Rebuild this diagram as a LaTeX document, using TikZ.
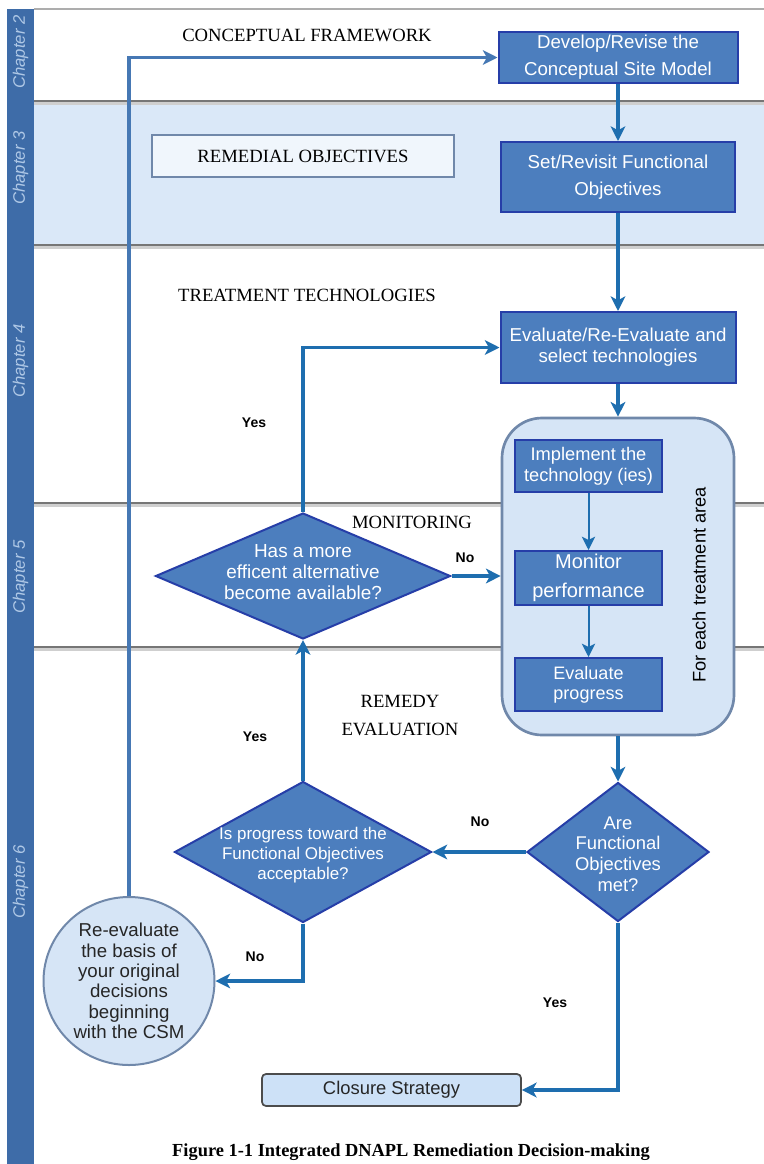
\documentclass[tikz,border=0pt]{standalone}
\usepackage{fontspec}
\setmainfont{Liberation Serif}
\setsansfont{Liberation Sans}
\usetikzlibrary{arrows.meta,shapes.geometric}
\definecolor{boxfill}{RGB}{76,126,190}
\definecolor{boxborder}{RGB}{38,62,168}
\definecolor{arrowc}{RGB}{30,110,175}
\definecolor{lightfill}{RGB}{214,229,246}
\definecolor{closefill}{RGB}{205,225,247}
\definecolor{bandfill}{RGB}{218,232,248}
\definecolor{contborder}{RGB}{112,136,170}
\definecolor{sidebar}{RGB}{62,108,168}
\definecolor{chaptext}{RGB}{175,200,230}
\definecolor{laneline}{RGB}{118,118,118}
\definecolor{fbline}{RGB}{70,120,180}
\newcommand{\pxl}[1]{#1*0.75pt}
\begin{document}
\begin{tikzpicture}[x=0.75pt,y=-0.75pt,
  bluebox/.style={draw=boxborder, line width=1.5pt, fill=boxfill, text=white,
    font=\sffamily\fontsize{14}{19}\selectfont, align=center, inner sep=0pt},
  dshape/.style={diamond, draw=boxborder, line width=1.5pt, fill=boxfill, inner sep=0pt},
  dtext/.style={text=white, align=center, inner sep=0pt},
  flow/.style={draw=arrowc, line width=2.4pt, -{Stealth[length=11pt,width=11pt,inset=3pt]}},
  thinflow/.style={draw=arrowc, line width=1.5pt, -{Stealth[length=10pt,width=10pt,inset=2.5pt]}},
  lbl/.style={font=\sffamily\bfseries\fontsize{10.5}{12}\selectfont, inner sep=0pt},
  heading/.style={font=\fontsize{14}{16}\selectfont, inner sep=0pt},
  chap/.style={rotate=90, text=chaptext, font=\sffamily\itshape\fontsize{12.5}{14}\selectfont, inner sep=0pt},
  lane/.style={draw=laneline, line width=2.2pt}
]
\useasboundingbox (0,0) rectangle (764,1164);
\fill[white] (0,0) rectangle (764,1164);
% chapter 3 band
\fill[bandfill] (34,101) rectangle (764,245);
% lane lines
\draw[draw=laneline!60, line width=1.2pt] (34,9) -- (764,9);
\foreach \yy in {101,245,503,647} {
  \draw[draw=laneline!35, line width=2pt] (34,\yy+2.5) -- (764,\yy+2.5);
  \draw[lane] (34,\yy) -- (764,\yy);
}
% sidebar
\fill[sidebar] (7,9) rectangle (34,1164);
\node[chap] (c2) at (20.5,52) {Chapter 2};
\node[chap] (c3) at (20.5,168) {Chapter 3};
\node[chap] (c4) at (20.5,361) {Chapter 4};
\node[chap] (c5) at (20.5,577) {Chapter 5};
\node[chap] (c6) at (20.5,882) {Chapter 6};

% headings
\node[heading] (hcf) at (307,35) {CONCEPTUAL FRAMEWORK};
\node[draw=contborder, line width=1pt, fill=white!60!bandfill, minimum width=\pxl{302}, minimum height=\pxl{42}, heading] (hro) at (303,156) {REMEDIAL OBJECTIVES};
\node[heading] (htt) at (307,295) {TREATMENT TECHNOLOGIES};
\node[heading] (hmon) at (412,522) {MONITORING};
\node[heading, align=center, font=\fontsize{14}{21}\selectfont] (hre) at (400,716) {REMEDY\\EVALUATION};

% main column boxes
\node[bluebox, minimum width=\pxl{239}, minimum height=\pxl{51}, font=\sffamily\fontsize{14}{20}\selectfont] (dev) at (618,57.5) {Develop/Revise the\\Conceptual Site Model};
\node[bluebox, minimum width=\pxl{234}, minimum height=\pxl{70}, font=\sffamily\fontsize{14}{20}\selectfont] (set) at (618,177) {Set/Revisit Functional\\Objectives};
\node[bluebox, minimum width=\pxl{235}, minimum height=\pxl{71}, font=\sffamily\fontsize{14}{15.5}\selectfont] (eval) at (618,347.5) {Evaluate/Re-Evaluate and\\select technologies};

% container
\node[draw=contborder, line width=2pt, fill=lightfill, rounded corners=30pt, minimum width=\pxl{232}, minimum height=\pxl{317}, inner sep=0pt] (cont) at (618,576.5) {};
\node[rotate=90, font=\sffamily\fontsize{13.7}{16}\selectfont, inner sep=0pt] (fet) at (699,585) {For each treatment area};
\node[bluebox, minimum width=\pxl{147}, minimum height=\pxl{52}, font=\sffamily\fontsize{13.7}{15.5}\selectfont] (impl) at (588.5,466) {Implement the\\technology (ies)};
\node[bluebox, minimum width=\pxl{147}, minimum height=\pxl{54}, font=\sffamily\fontsize{15}{22}\selectfont] (mon) at (588.5,578) {Monitor\\performance};
\node[bluebox, minimum width=\pxl{147}, minimum height=\pxl{53}, font=\sffamily\fontsize{13.5}{15}\selectfont] (evp) at (588.5,684.5) {Evaluate\\progress};

% diamonds
\node[dshape, minimum width=\pxl{295}, minimum height=\pxl{126}] (has) at (303,576) {};
\node[dtext, font=\sffamily\fontsize{14.2}{15.5}\selectfont] (hast) at (303,572) {Has a more\\efficent alternative\\become available?};
\node[dshape, minimum width=\pxl{257}, minimum height=\pxl{141}] (isp) at (303,852) {};
\node[dtext, font=\sffamily\fontsize{12.7}{15}\selectfont] (ispt) at (303,855) {Is progress toward the\\Functional Objectives\\acceptable?};
\node[dshape, minimum width=\pxl{182}, minimum height=\pxl{139}] (are) at (618,852) {};
\node[dtext, font=\sffamily\fontsize{13.8}{15.5}\selectfont] (aret) at (618,854) {Are\\Functional\\Objectives\\met?};

% ellipse
\node[ellipse, draw=contborder, line width=1.5pt, fill=lightfill, minimum width=\pxl{171}, minimum height=\pxl{168}, inner sep=0pt] (ell) at (129,981) {};
\node[text=black!85, align=center, font=\sffamily\fontsize{14}{15.3}\selectfont, inner sep=0pt] (ellt) at (129,981) {Re-evaluate\\the basis of\\your original\\decisions\\beginning\\with the CSM};

% closure
\node[draw=black!70, line width=1.3pt, fill=closefill, rounded corners=3pt, minimum width=\pxl{259}, minimum height=\pxl{32}, inner sep=0pt, font=\sffamily\fontsize{13.8}{16}\selectfont, text=black!85] (clo) at (391.5,1090) {Closure Strategy};

% connectors
\draw[draw=fbline, line width=2.6pt, -{Stealth[length=11pt,width=11pt,inset=3pt]}] (ell.north) |- (dev.west);
\draw[flow] (dev.south) -- (set.north);
\draw[flow] (set.south) -- (eval.north);
\draw[flow] (eval.south) -- (cont.north);
\draw[thinflow] (impl.south) -- (mon.north);
\draw[thinflow] (mon.south) -- (evp.north);
\draw[flow] (cont.south) -- (are.north);
\draw[flow] (are.west) -- (isp.east);
\draw[flow] (are.south) |- (clo.east);
\draw[flow] (isp.north) -- (has.south);
\draw[flow] (isp.south) |- (ell.east);
\draw[flow] (has.north) |- (eval.west);
\draw[flow] (has.east) -- (has.east -| cont.west);

% labels
\node[lbl] (ly1) at (254,423) {Yes};
\node[lbl] (ln1) at (465,558) {No};
\node[lbl] (ly2) at (255,737) {Yes};
\node[lbl] (ln2) at (480,822) {No};
\node[lbl] (ln3) at (255,957) {No};
\node[lbl] (ly3) at (555,1003) {Yes};

% caption
\node[font=\bfseries\fontsize{13.8}{16}\selectfont, inner sep=0pt] (cap) at (411,1152) {Figure 1-1 Integrated DNAPL Remediation Decision-making};
\end{tikzpicture}
\end{document}
